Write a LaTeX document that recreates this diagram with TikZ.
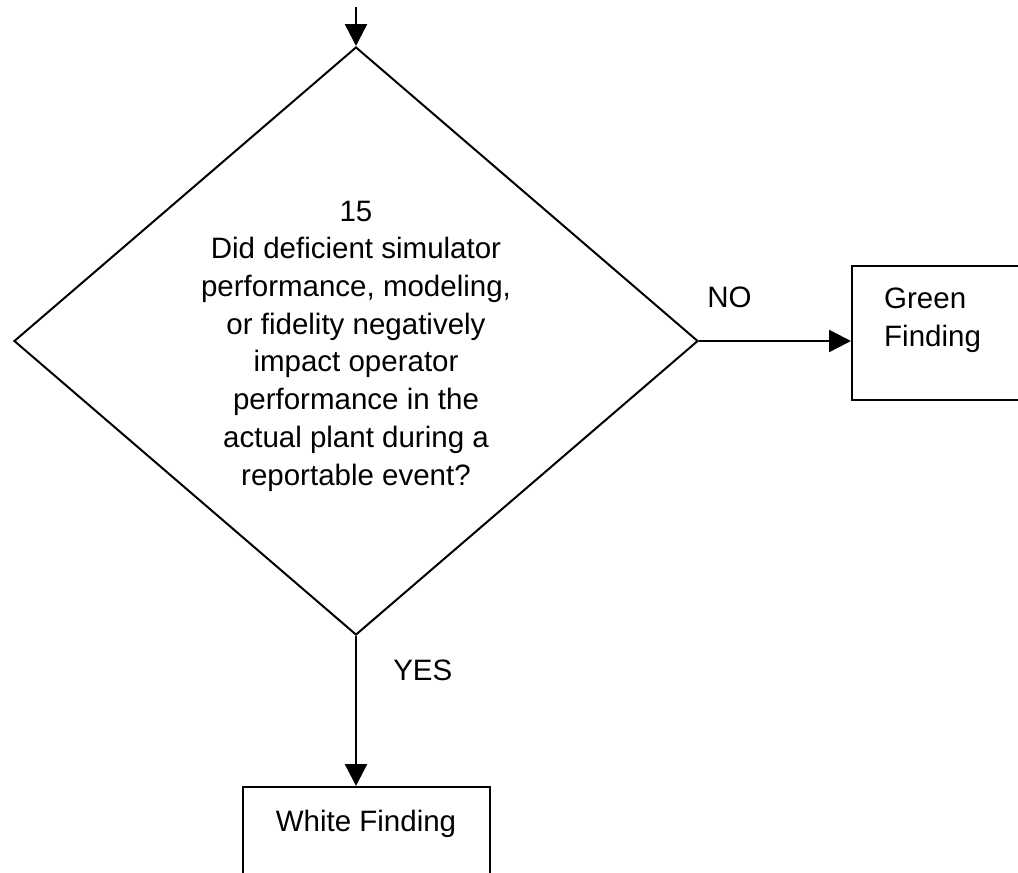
\documentclass[tikz,border=0pt]{standalone}
\usepackage{fontspec}
\setmainfont{Liberation Sans}
\usetikzlibrary{arrows.meta, positioning, shapes.geometric}

\begin{document}
\begin{tikzpicture}[
  x=1pt, y=-1pt,
  decision/.style={draw, diamond, line width=2pt, inner sep=0pt, minimum width=684pt, minimum height=588pt},
  box/.style={draw, line width=2pt, inner sep=0pt},
  lbl/.style={inner sep=0pt, font=\fontsize{29.5}{37.7}\selectfont},
  arrow/.style={-{Triangle[length=22pt, width=22pt]}, line width=2.5pt}
]
\useasboundingbox (0,0) rectangle (1018,873);

\node[decision] (dec) at (356,341) {};
\node[lbl, align=center] (question) at ([yshift=-5pt]dec.center)
  {15\\Did deficient simulator\\performance, modeling,\\or fidelity negatively\\impact operator\\performance in the\\actual plant during a\\reportable event?};
\coordinate[above=39pt of dec.north] (entry);

\node[box, minimum width=200pt, minimum height=134pt, right=152pt of dec.east, yshift=8pt,
  label={[lbl, anchor=north west, align=left, xshift=33pt, yshift=-23pt]north west:Green\\Finding}] (green) {};
\node[box, minimum width=247pt, minimum height=130pt, below=150pt of dec.south, xshift=10pt,
  label={[lbl, anchor=north, yshift=-24pt]north:White Finding}] (white) {};

\draw[arrow] (entry) -- (dec.north);
\draw[arrow] (dec.east) -- (dec.east -| green.west) node[lbl, pos=0.2, above=32pt] {NO};
\draw[arrow] (dec.south) -- (dec.south |- white.north) node[lbl, pos=0.23, right=36pt] {YES};
\end{tikzpicture}
\end{document}
